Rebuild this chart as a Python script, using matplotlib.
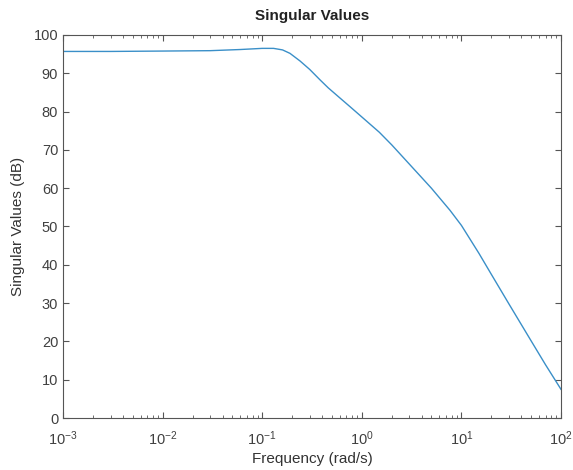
import matplotlib
matplotlib.use("Agg")
import matplotlib.pyplot as plt
import numpy as np

plt.rcParams['font.family'] = ['Liberation Sans', 'DejaVu Sans']
plt.rcParams['mathtext.fontset'] = 'custom'
plt.rcParams['mathtext.rm'] = 'Liberation Sans'
plt.rcParams['mathtext.it'] = 'Liberation Sans'

# singular value response, read in dB
freq = [0.001, 0.003, 0.01, 0.03, 0.06, 0.1, 0.13, 0.16, 0.19, 0.24, 0.3,
        0.38, 0.46, 0.6, 0.76, 1.0, 1.5, 2.0, 3.0, 5.0, 7.7, 10, 15, 20,
        30, 50, 70, 100]
sv_db = [95.7, 95.7, 95.8, 95.9, 96.2, 96.5, 96.5, 96.1, 95.2, 93.2, 91.0,
         88.3, 86.2, 83.6, 81.3, 78.6, 74.6, 71.3, 66.3, 60.0, 54.2, 50.3,
         43.0, 37.5, 29.8, 20.2, 13.9, 7.5]

y_ticks = np.arange(0, 101, 10)

axcol = '#555555'
fig = plt.figure(figsize=(5.73, 4.70), dpi=100)
ax = fig.add_axes([0.110, 0.1106, 0.869, 0.815])

ax.semilogx(freq, sv_db, color='#3a8fc8', lw=1.0)

ax.set_xlim(1e-3, 1e2)
ax.set_ylim(0, 100)
ax.set_yticks(y_ticks)
ax.set_xticks([1e-3, 1e-2, 1e-1, 1e0, 1e1, 1e2])

for s in ax.spines.values():
    s.set_color(axcol)
    s.set_linewidth(0.8)
ax.tick_params(which='both', direction='in', top=True, right=True,
               colors=axcol, labelcolor='#404040', labelsize=10.5)
ax.tick_params(which='major', length=4)
ax.tick_params(which='minor', length=2.5)
ax.tick_params(axis='x', pad=8)

ax.set_title('Singular Values', fontsize=11, fontweight='bold', color='#222222', pad=11)
ax.set_xlabel('Frequency (rad/s)', fontsize=11, color='#333333', labelpad=3)
ax.set_ylabel('Singular Values (dB)', fontsize=11, color='#333333', labelpad=6)

fig.savefig('out.png', dpi=100)
